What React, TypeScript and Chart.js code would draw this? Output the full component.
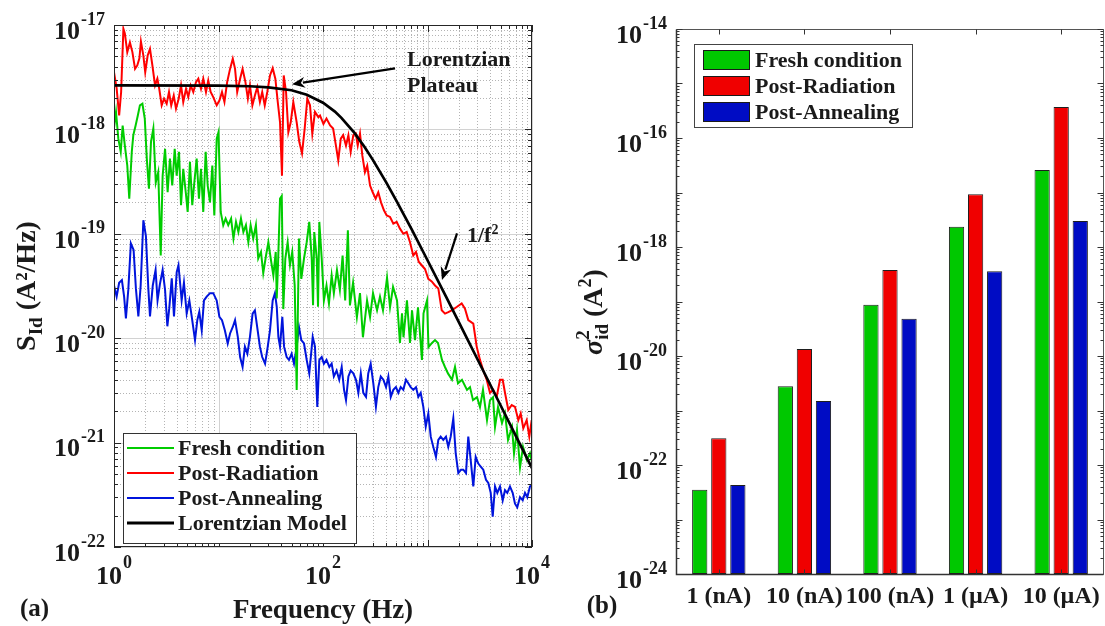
import React, { useEffect, useRef } from 'react';
import { Chart, registerables } from 'chart.js';

Chart.register(...registerables);

// ---------------- data: panel (a) noise spectra  [frequency Hz, S_Id A²/Hz] ----------------
const freshCondition: [number, number][] = [
  [1.00,1.02e-18],[1.045,1.47e-18],[1.10,8.15e-19],[1.16,6.1e-19],[1.21,1.09e-18],[1.27,7.0e-19],[1.34,4.5e-19],[1.40,2.17e-19],
  [1.48,6.1e-19],[1.53,8.8e-19],[1.61,1.09e-18],[1.69,1.36e-18],[1.77,1.70e-18],[1.87,1.76e-18],[1.97,1.27e-18],[2.06,5.25e-19],
  [2.16,2.7e-19],[2.26,7.6e-19],[2.38,1.02e-18],[2.51,3.1e-19],[2.65,3.9e-19],[2.80,6.2e-20],[2.92,3.6e-19],[3.08,6.5e-19],
  [3.26,2.5e-19],[3.43,5.25e-19],[3.61,2.9e-19],[3.81,6.5e-19],[3.98,3.6e-19],[4.19,6.1e-19],[4.38,1.88e-19],[4.60,4.2e-19],
  [4.86,2.5e-19],[5.07,1.62e-19],[5.33,4.9e-19],[5.61,1.88e-19],[5.87,3.1e-19],[6.18,5.25e-19],[6.50,2.17e-19],[6.80,4.2e-19],
  [7.15,1.62e-19],[7.54,6.1e-19],[7.88,2.9e-19],[8.29,2.0e-19],[8.73,4.5e-19],[9.12,1.50e-19],[9.61,8.15e-19],[10.0,9.4e-19],
  [10.5,1.62e-19],[11.1,1.21e-19],[11.7,1.40e-19],[12.4,1.21e-19],[13.2,1.40e-19],[13.9,9.0e-20],[14.7,1.30e-19],[15.5,1.04e-19],
  [16.4,1.40e-19],[17.3,1.04e-19],[18.3,1.21e-19],[19.3,8.3e-20],[20.3,1.21e-19],[21.5,9.0e-20],[22.8,1.21e-19],[24.0,5.8e-20],
  [25.5,6.7e-20],[26.8,4.2e-20],[28.5,6.2e-20],[30.0,8.3e-20],[31.6,5.8e-20],[33.5,4.0e-20],[35.3,6.7e-20],[36.1,2.4e-20],
  [37.1,5.0e-20],[38.8,2.17e-19],[40.3,2.3e-19],[41.7,1.9e-20],[43.6,5.8e-20],[45.9,8.3e-20],[48.3,5.0e-20],[50.8,6.7e-20],
  [53.6,3.2e-20],[56.0,3.2e-21],[58.9,9.0e-20],[62.0,3.7e-20],[65.8,5.8e-20],[69.8,8.3e-20],[73.9,1.30e-19],[78.0,5.8e-20],
  [80.3,2.07e-20],[82.5,1.04e-19],[87.1,5.8e-20],[89.6,2.0e-20],[92.2,1.30e-19],[97.2,5.8e-20],[102,2.3e-20],[108,3.2e-20],
  [114,2.15e-20],[121,4.0e-20],[127,2.7e-20],[136,4.5e-20],[145,2.9e-20],[154,6.2e-20],[163,2.3e-20],[173,1.08e-19],
  [181,2.06e-20],[194,3.4e-20],[211,1.59e-20],[226,2.7e-20],[241,1.02e-20],[264,2.3e-20],[282,1.59e-20],[301,2.7e-20],
  [329,1.85e-20],[351,2.5e-20],[375,1.85e-20],[410,3.8e-20],[438,1.98e-20],[468,3.1e-20],[511,2.3e-20],[545,9.0e-21],
  [570,1.73e-20],[589,1.02e-20],[636,2.3e-20],[680,9.0e-21],[711,1.85e-20],[759,9.6e-21],[811,1.98e-20],[885,6.2e-21],
  [916,1.73e-20],[989,2.3e-20],[1022,8.2e-21],[1104,9.0e-21],[1180,9.6e-21],[1260,9.0e-21],[1376,6.2e-21],[1470,5.3e-21],
  [1570,4.6e-21],[1715,4.0e-21],[1833,5.3e-21],[1958,3.7e-21],[2138,4.0e-21],[2388,3.2e-21],[2551,3.4e-21],[2725,2.55e-21],
  [2978,2.72e-21],[3178,2.19e-21],[3396,3.2e-21],[3710,1.64e-21],[3963,2.55e-21],[4236,2.72e-21],[4427,1.41e-21],[4730,2.19e-21],
  [5164,1.54e-21],[5518,1.91e-21],[5896,1.06e-21],[6438,1.41e-21],[6728,7.9e-22],[7185,1.32e-21],[7678,5.8e-22],[8204,9.1e-22],
  [8954,6.8e-22],[9568,7.9e-22],[10000,6.5e-22],
];

const postRadiation: [number, number][] = [
  [1.00,3.53e-18],[1.06,2.47e-18],[1.12,1.36e-18],[1.17,2.28e-18],[1.23,9.2e-18],[1.27,8.3e-18],[1.34,5.5e-18],[1.42,6.8e-18],
  [1.50,5.5e-18],[1.59,3.8e-18],[1.67,4.1e-18],[1.75,4.8e-18],[1.81,6.95e-18],[1.91,5.1e-18],[1.99,3.53e-18],[2.10,5.1e-18],
  [2.21,5.9e-18],[2.33,4.1e-18],[2.47,2.64e-18],[2.60,3.06e-18],[2.71,2.45e-18],[2.86,1.70e-18],[3.01,1.97e-18],[3.19,1.76e-18],
  [3.36,2.28e-18],[3.53,1.70e-18],[3.73,2.11e-18],[3.92,1.58e-18],[4.16,1.97e-18],[4.38,2.64e-18],[4.60,1.83e-18],[4.89,2.45e-18],
  [5.14,2.04e-18],[5.42,2.64e-18],[5.74,2.28e-18],[6.09,2.84e-18],[6.41,3.06e-18],[6.80,2.45e-18],[7.15,3.06e-18],[7.59,2.28e-18],
  [7.98,2.94e-18],[8.41,2.28e-18],[8.91,2.04e-18],[9.61,1.70e-18],[10.2,1.89e-18],[10.8,2.28e-18],[11.4,1.83e-18],[12.1,2.84e-18],
  [12.9,3.8e-18],[13.7,4.75e-18],[14.4,3.8e-18],[15.1,2.28e-18],[16.1,3.06e-18],[17.0,3.8e-18],[18.1,2.84e-18],[19.1,1.97e-18],
  [20.0,2.64e-18],[21.1,1.70e-18],[22.3,2.11e-18],[23.5,2.54e-18],[24.9,1.83e-18],[26.2,2.28e-18],[27.7,1.70e-18],[29.3,2.28e-18],
  [31.1,3.29e-18],[33.0,3.86e-18],[35.0,3.06e-18],[36.9,1.83e-18],[38.8,1.17e-18],[40.5,3.6e-19],[42.1,3.29e-18],[44.3,2.28e-18],
  [46.6,9.4e-19],[49.1,1.17e-18],[52.0,1.83e-18],[56.0,1.17e-18],[59.3,7.6e-19],[63.0,5.9e-19],[66.8,1.02e-18],[70.8,1.97e-18],
  [75.1,1.70e-18],[79.0,9.1e-19],[83.8,1.47e-18],[90.2,1.31e-18],[93.6,1.36e-18],[101,1.13e-18],[108,1.27e-18],[117,1.09e-18],
  [125,1.02e-18],[133,7.0e-19],[140,5.05e-19],[148,8.15e-19],[156,8.8e-19],[166,7.0e-19],[175,8.8e-19],[184,6.1e-19],
  [195,8.8e-19],[206,9.1e-19],[215,7.0e-19],[226,9.1e-19],[238,5.6e-19],[252,3.9e-19],[265,4.5e-19],[282,2.9e-19],
  [299,2.5e-19],[319,2.17e-19],[338,2.5e-19],[359,2.0e-19],[383,1.68e-19],[407,1.50e-19],[438,1.45e-19],[471,1.25e-19],
  [507,1.30e-19],[545,1.12e-19],[587,1.0e-19],[632,1.04e-19],[680,8.3e-20],[731,6.2e-20],[776,6.7e-20],[824,5.4e-20],
  [880,5.0e-20],[946,4.6e-20],[1018,3.7e-20],[1097,3.5e-20],[1180,3.2e-20],[1269,3.0e-20],[1368,1.85e-20],[1470,1.72e-20],
  [1581,1.78e-20],[1704,1.85e-20],[1903,1.99e-20],[2124,2.15e-20],[2284,1.92e-20],[2456,1.49e-20],[2743,1.38e-20],[2956,8.3e-21],
  [3178,6.2e-21],[3418,4.9e-21],[3686,4.0e-21],[3963,3.0e-21],[4263,3.2e-21],[4592,2.74e-21],[4940,4.0e-21],[5244,4.0e-21],
  [5514,3.0e-21],[5934,2.05e-21],[6395,2.29e-21],[6876,2.2e-21],[7395,1.64e-21],[7796,1.90e-21],[8256,1.37e-21],[8897,1.64e-21],
  [9422,1.14e-21],[9934,1.64e-21],
];

const postAnnealing: [number, number][] = [
  [1.00,3.2e-20],[1.06,2.5e-20],[1.12,3.4e-20],[1.19,3.6e-20],[1.25,2.5e-20],[1.30,1.55e-20],[1.37,2.9e-20],[1.45,8.1e-20],
  [1.54,7.0e-20],[1.62,3.0e-20],[1.71,1.62e-20],[1.80,3.2e-20],[1.91,1.35e-19],[2.02,9.5e-20],[2.13,3.0e-20],[2.21,1.62e-20],
  [2.35,3.2e-20],[2.50,4.5e-20],[2.61,2.3e-20],[2.75,3.3e-20],[2.92,4.5e-20],[3.08,2.9e-20],[3.24,1.30e-20],[3.38,1.94e-20],
  [3.57,3.75e-20],[3.75,1.62e-20],[3.98,4.3e-20],[4.14,5.0e-20],[4.44,2.3e-20],[4.67,3.4e-20],[4.96,1.73e-20],[5.26,2.3e-20],
  [5.54,1.62e-20],[5.96,9.6e-21],[6.27,1.49e-20],[6.55,1.79e-20],[6.91,1.19e-20],[7.26,2.3e-20],[7.71,2.5e-20],[8.29,2.7e-20],
  [8.91,2.7e-20],[9.61,2.3e-20],[10.2,1.60e-20],[10.8,1.49e-20],[11.5,1.19e-20],[12.25,8.9e-21],[12.9,1.11e-20],[13.7,1.28e-20],
  [14.4,1.49e-20],[15.3,1.03e-20],[16.1,6.6e-21],[17.0,5.3e-21],[17.9,8.3e-21],[18.9,7.1e-21],[20.0,1.03e-20],[21.2,1.72e-20],
  [22.3,1.85e-20],[23.7,1.19e-20],[24.9,8.3e-21],[26.2,6.6e-21],[27.9,5.7e-21],[29.6,8.3e-21],[31.1,1.19e-20],[33.0,2.3e-20],
  [34.7,2.7e-20],[36.1,2.0e-20],[37.4,1.03e-20],[38.8,8.3e-21],[40.8,1.60e-20],[42.4,8.3e-21],[44.9,6.6e-21],[47.3,6.2e-21],
  [50.1,7.1e-21],[52.8,5.7e-21],[56.0,8.3e-21],[58.9,1.28e-20],[62.0,9.6e-21],[65.8,8.9e-21],[69.8,6.2e-21],[73.9,4.6e-21],
  [79.7,1.03e-20],[83.8,8.3e-21],[88.2,2.2e-21],[92.2,6.2e-21],[97.2,6.6e-21],[102,5.7e-21],[108,6.2e-21],[115,5.3e-21],
  [121,5.7e-21],[127,4.3e-21],[135,4.9e-21],[143,4.0e-21],[151,5.3e-21],[159,3.2e-21],[166,2.55e-21],[175,4.3e-21],
  [184,4.9e-21],[195,4.6e-21],[207,4.0e-21],[218,3.0e-21],[230,4.6e-21],[243,3.0e-21],[258,2.74e-21],[271,4.6e-21],
  [286,5.7e-21],[303,3.7e-21],[321,2.2e-21],[338,3.4e-21],[357,4.3e-21],[378,4.0e-21],[401,3.4e-21],[422,4.3e-21],
  [445,2.74e-21],[471,3.2e-21],[499,3.4e-21],[526,3.0e-21],[554,3.4e-21],[587,3.2e-21],[622,4.0e-21],[655,3.7e-21],
  [690,3.4e-21],[731,3.2e-21],[776,3.4e-21],[817,2.74e-21],[861,3.0e-21],[912,2.2e-21],[962,1.42e-21],[1018,1.90e-21],
  [1074,1.14e-21],[1136,9.1e-22],[1205,7.3e-22],[1269,1.06e-21],[1337,1.14e-21],[1416,1.06e-21],[1503,1.14e-21],[1581,9.1e-22],
  [1667,1.14e-21],[1766,1.70e-21],[1862,7.9e-22],[1972,5.1e-22],[2093,5.5e-22],[2201,5.5e-22],[2336,5.1e-22],[2456,1.14e-21],
  [2591,6.8e-22],[2743,3.8e-22],[2893,7.3e-22],[3064,6.3e-22],[3230,5.9e-22],[3418,5.5e-22],[3629,4.4e-22],[3819,4.1e-22],
  [4027,3.3e-22],[4207,1.95e-22],[4427,3.8e-22],[4658,3.3e-22],[4940,3.8e-22],[5244,2.8e-22],[5514,3.5e-22],[5801,3.3e-22],
  [6154,3.8e-22],[6531,3.3e-22],[6876,2.6e-22],[7228,2.4e-22],[7678,3.0e-22],[8147,2.8e-22],[8570,3.3e-22],[9016,3.0e-22],
  [9568,3.8e-22],[10000,3.9e-22],
];

const lorentzianModel: [number, number][] = [
  [1,2.64e-18],[10,2.63e-18],[20,2.59e-18],[30,2.53e-18],[50,2.37e-18],[70,2.15e-18],[100,1.80e-18],[130,1.48e-18],
  [150,1.29e-18],[200,9.26e-19],[250,6.79e-19],[300,5.11e-19],[400,3.14e-19],[500,2.10e-19],[700,1.12e-19],[1000,5.58e-20],
  [1500,2.51e-20],[2000,1.42e-20],[3000,6.32e-21],[5000,2.28e-21],[7000,1.16e-21],[10000,5.70e-22],
];

const psdFreqDecades = [0, 1, 2, 3, 4];
const psdFreqLabelled = [0, 2, 4];
const psdDecades = [-22, -21, -20, -19, -18, -17];

// annotation anchors in data space [Hz, A²/Hz]
const plateauArrowTail: [number, number] = [489, 3.84e-18];
const plateauArrowTip: [number, number] = [50.5, 2.7e-18];
const plateauTextLine1: [number, number] = [637, 4.6e-18];
const plateauTextLine2: [number, number] = [637, 2.58e-18];
const slopeArrowTail: [number, number] = [1915, 1.01e-19];
const slopeArrowTip: [number, number] = [1376, 3.6e-20];
const slopeText: [number, number] = [2388, 1.0e-19];

// ---------------- data: panel (b) variance bars ----------------
const barCategories = ['1 (nA)', '10 (nA)', '100 (nA)', '1 (\u00b5A)', '10 (\u00b5A)'];
const barFresh = [3.5e-23, 2.8e-21, 8.7e-20, 2.35e-18, 2.6e-17];
const barRadiation = [3.1e-22, 1.35e-20, 3.8e-19, 9.3e-18, 3.7e-16];
const barAnnealing = [4.3e-23, 1.5e-21, 4.8e-20, 3.6e-19, 3.0e-18];
const barDecades = [-24, -23, -22, -21, -20, -19, -18, -17, -16, -15, -14];
const barLabelledDecades = [-24, -22, -20, -18, -16, -14];

const seriesNames = ['Fresh condition', 'Post-Radiation', 'Post-Annealing', 'Lorentzian Model'];

// ---------------- styles ----------------
const FONT = '"Liberation Serif", "Times New Roman", Times, serif';
const INK = '#1a1a1a';
const LINE_GREEN = '#00cc00';
const LINE_RED = '#ff0000';
const LINE_BLUE = '#0014dc';
const BAR_GREEN = '#00c800';
const BAR_RED = '#f00000';
const BAR_BLUE = '#000cc4';

type Seg = { t?: string; font?: string; dy?: number; stack?: { t: string; font: string; dy: number }[] };

function segWidth(ctx: CanvasRenderingContext2D, s: Seg) {
  if (s.stack) {
    let w = 0;
    for (const p of s.stack) { ctx.font = p.font; w = Math.max(w, ctx.measureText(p.t).width); }
    return w;
  }
  ctx.font = s.font as string;
  return ctx.measureText(s.t as string).width;
}

function drawRich(ctx: CanvasRenderingContext2D, segs: Seg[], cx: number, cy: number, rot: number, align: 'center' | 'left', base: number) {
  ctx.save();
  ctx.translate(cx, cy);
  ctx.rotate(rot);
  ctx.textAlign = 'left';
  ctx.textBaseline = 'alphabetic';
  ctx.fillStyle = INK;
  const widths = segs.map((s) => segWidth(ctx, s));
  const total = widths.reduce((a, b) => a + b, 0);
  let x = align === 'center' ? -total / 2 : 0;
  segs.forEach((s, i) => {
    if (s.stack) {
      for (const p of s.stack) { ctx.font = p.font; ctx.fillText(p.t, x, base + p.dy); }
    } else {
      ctx.font = s.font as string;
      ctx.fillText(s.t as string, x, base + (s.dy || 0));
    }
    x += widths[i];
  });
  ctx.restore();
}

function drawPow(ctx: CanvasRenderingContext2D, x: number, y: number, exp: number, align: 'right' | 'center', baseDy: number, expDy: number) {
  const baseFont = `bold 26px ${FONT}`;
  const expFont = `bold 18px ${FONT}`;
  const ex = exp < 0 ? '-' + Math.abs(exp) : String(exp);
  ctx.font = baseFont;
  const wb = ctx.measureText('10').width;
  ctx.font = expFont;
  const we = ctx.measureText(ex).width;
  const total = wb + 1 + we;
  const x0 = align === 'right' ? x - total : x - total / 2;
  ctx.fillStyle = INK;
  ctx.textAlign = 'left';
  ctx.textBaseline = 'middle';
  ctx.font = baseFont;
  ctx.fillText('10', x0, y + baseDy);
  ctx.font = expFont;
  ctx.fillText(ex, x0 + wb + 1, y + expDy);
}

function arrow(ctx: CanvasRenderingContext2D, x1: number, y1: number, x2: number, y2: number) {
  const ang = Math.atan2(y2 - y1, x2 - x1);
  const len = 13, hw = 5.5;
  ctx.save();
  ctx.strokeStyle = '#000';
  ctx.fillStyle = '#000';
  ctx.lineWidth = 2.2;
  ctx.beginPath();
  ctx.moveTo(x1, y1);
  ctx.lineTo(x2 - Math.cos(ang) * (len - 2), y2 - Math.sin(ang) * (len - 2));
  ctx.stroke();
  ctx.beginPath();
  ctx.moveTo(x2, y2);
  ctx.lineTo(x2 - Math.cos(ang) * len - Math.sin(ang) * hw, y2 - Math.sin(ang) * len + Math.cos(ang) * hw);
  ctx.lineTo(x2 - Math.cos(ang) * (len - 4), y2 - Math.sin(ang) * (len - 4));
  ctx.lineTo(x2 - Math.cos(ang) * len + Math.sin(ang) * hw, y2 - Math.sin(ang) * len - Math.cos(ang) * hw);
  ctx.closePath();
  ctx.fill();
  ctx.restore();
}

const psdDecor = {
  id: 'psdDecor',
  beforeDatasetsDraw(chart: any) {
    const { ctx, chartArea: a } = chart;
    const xs = chart.scales.x, ys = chart.scales.y;
    ctx.save();
    ctx.lineWidth = 1;
    ctx.strokeStyle = '#b4b4b4';
    ctx.setLineDash([1, 2]);
    ctx.beginPath();
    for (const e of psdFreqDecades.slice(0, -1)) {
      for (let m = 2; m < 10; m++) {
        const p = Math.round(xs.getPixelForValue(m * Math.pow(10, e))) + 0.5;
        ctx.moveTo(p, a.top); ctx.lineTo(p, a.bottom);
      }
    }
    for (const e of psdDecades.slice(0, -1)) {
      for (let m = 2; m < 10; m++) {
        const p = Math.round(ys.getPixelForValue(m * Math.pow(10, e))) + 0.5;
        ctx.moveTo(a.left, p); ctx.lineTo(a.right, p);
      }
    }
    ctx.stroke();
    ctx.setLineDash([]);
    ctx.strokeStyle = '#d2d2d2';
    ctx.beginPath();
    for (const e of psdFreqDecades) {
      const p = Math.round(xs.getPixelForValue(Math.pow(10, e))) + 0.5;
      ctx.moveTo(p, a.top); ctx.lineTo(p, a.bottom);
    }
    for (const e of psdDecades) {
      const p = Math.round(ys.getPixelForValue(Math.pow(10, e))) + 0.5;
      ctx.moveTo(a.left, p); ctx.lineTo(a.right, p);
    }
    ctx.stroke();
    ctx.restore();
  },
  afterDatasetsDraw(chart: any) {
    const { ctx, chartArea: a } = chart;
    const xs = chart.scales.x, ys = chart.scales.y;
    ctx.save();
    // frame
    ctx.strokeStyle = '#262626';
    ctx.lineWidth = 1;
    ctx.strokeRect(Math.round(a.left) + 0.5, Math.round(a.top) + 0.5, Math.round(a.right - a.left) - 1, Math.round(a.bottom - a.top) - 1);
    // ticks
    ctx.beginPath();
    for (const e of psdFreqDecades) {
      for (let m = 1; m < 10; m++) {
        const v = m * Math.pow(10, e);
        if (v > 1e4) break;
        const p = Math.round(xs.getPixelForValue(v)) + 0.5;
        const L = m === 1 ? 7 : 4;
        ctx.moveTo(p, a.bottom); ctx.lineTo(p, a.bottom - L);
        ctx.moveTo(p, a.top); ctx.lineTo(p, a.top + L);
      }
    }
    for (const e of psdDecades) {
      for (let m = 1; m < 10; m++) {
        const v = m * Math.pow(10, e);
        if (v > 1.0001e-17) break;
        const p = Math.round(ys.getPixelForValue(v)) + 0.5;
        const L = m === 1 ? 7 : 4;
        ctx.moveTo(a.left, p); ctx.lineTo(a.left + L, p);
        ctx.moveTo(a.right, p); ctx.lineTo(a.right - L, p);
      }
    }
    ctx.stroke();
    // tick labels
    for (const e of psdDecades) drawPow(ctx, a.left - 9, ys.getPixelForValue(Math.pow(10, e)), e, 'right', 7, -5);
    for (const e of psdFreqLabelled) drawPow(ctx, xs.getPixelForValue(Math.pow(10, e)), a.bottom + 23, e, 'center', 7, -7);
    // axis titles
    ctx.fillStyle = INK;
    ctx.font = `bold 27px ${FONT}`;
    ctx.textAlign = 'center';
    ctx.textBaseline = 'middle';
    ctx.fillText('Frequency (Hz)', (a.left + a.right) / 2, 611);
    drawRich(ctx, [
      { t: 'S', font: `bold 28px ${FONT}` },
      { t: 'Id', font: `bold 19px ${FONT}`, dy: 7 },
      { t: ' (A\u00b2/Hz)', font: `bold 28px ${FONT}` },
    ], 25, (a.top + a.bottom) / 2, -Math.PI / 2, 'center', 10);
    ctx.font = `bold 25px ${FONT}`;
    ctx.textAlign = 'left';
    ctx.fillText('(a)', 20, 610);
    // legend
    const lx = 123, ly = 433, lw = 233, lh = 110;
    ctx.fillStyle = '#fff';
    ctx.fillRect(lx, ly, lw, lh);
    ctx.strokeStyle = '#333';
    ctx.lineWidth = 1;
    ctx.strokeRect(lx + 0.5, ly + 0.5, lw, lh);
    const cols = [LINE_GREEN, LINE_RED, LINE_BLUE, '#000'];
    seriesNames.forEach((name, i) => {
      const yy = 448 + i * 25;
      ctx.strokeStyle = cols[i];
      ctx.lineWidth = i === 3 ? 3 : 2;
      ctx.beginPath(); ctx.moveTo(127, yy); ctx.lineTo(174, yy); ctx.stroke();
      ctx.fillStyle = INK;
      ctx.font = `bold 22px ${FONT}`;
      ctx.textAlign = 'left';
      ctx.textBaseline = 'middle';
      ctx.fillText(name, 178, yy + 1);
    });
    // annotations
    const px = (p: [number, number]) => [xs.getPixelForValue(p[0]), ys.getPixelForValue(p[1])];
    const [t1x, t1y] = px(plateauArrowTail), [h1x, h1y] = px(plateauArrowTip);
    arrow(ctx, t1x, t1y, h1x, h1y);
    const [t2x, t2y] = px(slopeArrowTail), [h2x, h2y] = px(slopeArrowTip);
    arrow(ctx, t2x, t2y, h2x, h2y);
    ctx.fillStyle = INK;
    ctx.font = `bold 22px ${FONT}`;
    ctx.textAlign = 'left';
    ctx.textBaseline = 'middle';
    const [p1x, p1y] = px(plateauTextLine1), [p2x, p2y] = px(plateauTextLine2);
    ctx.fillText('Lorentzian', p1x, p1y);
    ctx.fillText('Plateau', p2x, p2y);
    const [sx, sy] = px(slopeText);
    drawRich(ctx, [
      { t: '1/f', font: `bold 22px ${FONT}` },
      { t: '2', font: `bold 14px ${FONT}`, dy: -8 },
    ], sx, sy, 0, 'left', 8);
    ctx.restore();
  },
};

const barDecor = {
  id: 'barDecor',
  afterDatasetsDraw(chart: any) {
    const { ctx, chartArea: a } = chart;
    const xs = chart.scales.x, ys = chart.scales.y;
    ctx.save();
    const L = Math.round(a.left) + 0.5, R = Math.round(a.right) - 0.5, T = Math.round(a.top) + 0.5, B = Math.round(a.bottom) + 0.5;
    ctx.strokeStyle = '#555';
    ctx.lineWidth = 1;
    ctx.beginPath();
    ctx.moveTo(L, T); ctx.lineTo(R, T); ctx.lineTo(R, B);
    ctx.stroke();
    ctx.strokeStyle = '#333';
    ctx.lineWidth = 1.5;
    ctx.beginPath();
    ctx.moveTo(L, T); ctx.lineTo(L, B); ctx.lineTo(R, B);
    ctx.stroke();
    // ticks
    ctx.lineWidth = 1;
    ctx.strokeStyle = '#333';
    ctx.beginPath();
    for (const e of barDecades) {
      for (let m = 1; m < 10; m++) {
        const v = m * Math.pow(10, e);
        if (v > 1.0001e-14) break;
        const p = Math.round(ys.getPixelForValue(v)) + 0.5;
        const len = m === 1 ? 6 : 3;
        ctx.moveTo(L, p); ctx.lineTo(L + len, p);
        ctx.moveTo(R, p); ctx.lineTo(R - len, p);
      }
    }
    barCategories.forEach((_, i) => {
      const p = Math.round(xs.getPixelForValue(i)) + 0.5;
      ctx.moveTo(p, T); ctx.lineTo(p, T + 5);
      ctx.moveTo(p, B); ctx.lineTo(p, B - 5);
    });
    ctx.stroke();
    // tick labels
    for (const e of barLabelledDecades) drawPow(ctx, a.left - 9, ys.getPixelForValue(Math.pow(10, e)), e, 'right', 7, -5);
    ctx.fillStyle = INK;
    ctx.font = `bold 24px ${FONT}`;
    ctx.textAlign = 'center';
    ctx.textBaseline = 'middle';
    barCategories.forEach((c, i) => ctx.fillText(c, xs.getPixelForValue(i), 597));
    // y title
    drawRich(ctx, [
      { t: '\u03c3', font: `italic bold 28px ${FONT}`, dy: 0 },
      { stack: [{ t: '2', font: `bold 19px ${FONT}`, dy: -13 }, { t: 'id', font: `bold 19px ${FONT}`, dy: 6 }] },
      { t: ' (A', font: `bold 28px ${FONT}` },
      { t: '2', font: `bold 18px ${FONT}`, dy: -11 },
      { t: ')', font: `bold 28px ${FONT}` },
    ], 33, 312, -Math.PI / 2, 'center', 9);
    ctx.fillStyle = INK;
    ctx.font = `bold 25px ${FONT}`;
    ctx.textAlign = 'center';
    ctx.textBaseline = 'middle';
    ctx.fillText('(b)', 42, 607);
    // legend
    const lx = 134, ly = 44, lw = 218, lh = 83;
    ctx.fillStyle = '#fff';
    ctx.fillRect(lx, ly, lw, lh);
    ctx.strokeStyle = '#444';
    ctx.lineWidth = 1;
    ctx.strokeRect(lx + 0.5, ly + 0.5, lw, lh);
    const cols = [BAR_GREEN, BAR_RED, BAR_BLUE];
    seriesNames.slice(0, 3).forEach((name, i) => {
      const yy = 60 + i * 26;
      ctx.fillStyle = cols[i];
      ctx.fillRect(143, yy - 10, 47, 20);
      ctx.strokeStyle = '#1a1a1a';
      ctx.strokeRect(143.5, yy - 9.5, 46, 19);
      ctx.fillStyle = INK;
      ctx.font = `bold 22px ${FONT}`;
      ctx.textAlign = 'left';
      ctx.textBaseline = 'middle';
      ctx.fillText(name, 195, yy + 1);
    });
    ctx.restore();
  },
};

function PsdPanel() {
  const ref = useRef<HTMLCanvasElement | null>(null);
  useEffect(() => {
    const toPts = (arr: [number, number][]) => arr.map(([x, y]) => ({ x, y }));
    const chart = new Chart(ref.current as HTMLCanvasElement, {
      type: 'line',
      data: {
        datasets: [
          { label: seriesNames[3], data: toPts(lorentzianModel), borderColor: '#000', borderWidth: 2.7, pointRadius: 0, order: 0 },
          { label: seriesNames[1], data: toPts(postRadiation), borderColor: LINE_RED, borderWidth: 2, pointRadius: 0, order: 1 },
          { label: seriesNames[0], data: toPts(freshCondition), borderColor: LINE_GREEN, borderWidth: 2, pointRadius: 0, order: 2 },
          { label: seriesNames[2], data: toPts(postAnnealing), borderColor: LINE_BLUE, borderWidth: 2, pointRadius: 0, order: 3 },
        ],
      } as any,
      options: {
        animation: false,
        responsive: false,
        devicePixelRatio: 1,
        events: [],
        layout: { padding: { left: 114, right: 28, top: 25, bottom: 79 } },
        scales: {
          x: { type: 'logarithmic', min: 1, max: 1e4, display: false },
          y: { type: 'logarithmic', min: 1e-22, max: 1e-17, display: false },
        },
        plugins: { legend: { display: false }, tooltip: { enabled: false } },
      } as any,
      plugins: [psdDecor as any],
    });
    return () => chart.destroy();
  }, []);
  return <canvas ref={ref} width={560} height={626} style={{ position: 'absolute', left: 0, top: 0, width: 560, height: 626 }} />;
}

function BarPanel() {
  const ref = useRef<HTMLCanvasElement | null>(null);
  useEffect(() => {
    const common = { borderColor: '#1e1e1e', borderWidth: 1, borderSkipped: false };
    const chart = new Chart(ref.current as HTMLCanvasElement, {
      type: 'bar',
      data: {
        labels: barCategories,
        datasets: [
          { label: seriesNames[0], data: barFresh, backgroundColor: BAR_GREEN, ...common },
          { label: seriesNames[1], data: barRadiation, backgroundColor: BAR_RED, ...common },
          { label: seriesNames[2], data: barAnnealing, backgroundColor: BAR_BLUE, ...common },
        ],
      } as any,
      options: {
        animation: false,
        responsive: false,
        devicePixelRatio: 1,
        events: [],
        layout: { padding: { left: 116, right: 1, top: 29, bottom: 52 } },
        datasets: { bar: { categoryPercentage: 0.668, barPercentage: 0.8 } },
        scales: {
          x: { display: false },
          y: { type: 'logarithmic', min: 1e-24, max: 1e-14, display: false },
        },
        plugins: { legend: { display: false }, tooltip: { enabled: false } },
      } as any,
      plugins: [barDecor as any],
    });
    return () => chart.destroy();
  }, []);
  return <canvas ref={ref} width={545} height={626} style={{ position: 'absolute', left: 560, top: 0, width: 545, height: 626 }} />;
}

export default function App() {
  return (
    <div style={{ position: 'fixed', left: 0, top: 0, width: 1105, height: 626, background: '#fff', overflow: 'hidden' }}>
      <PsdPanel />
      <BarPanel />
    </div>
  );
}
